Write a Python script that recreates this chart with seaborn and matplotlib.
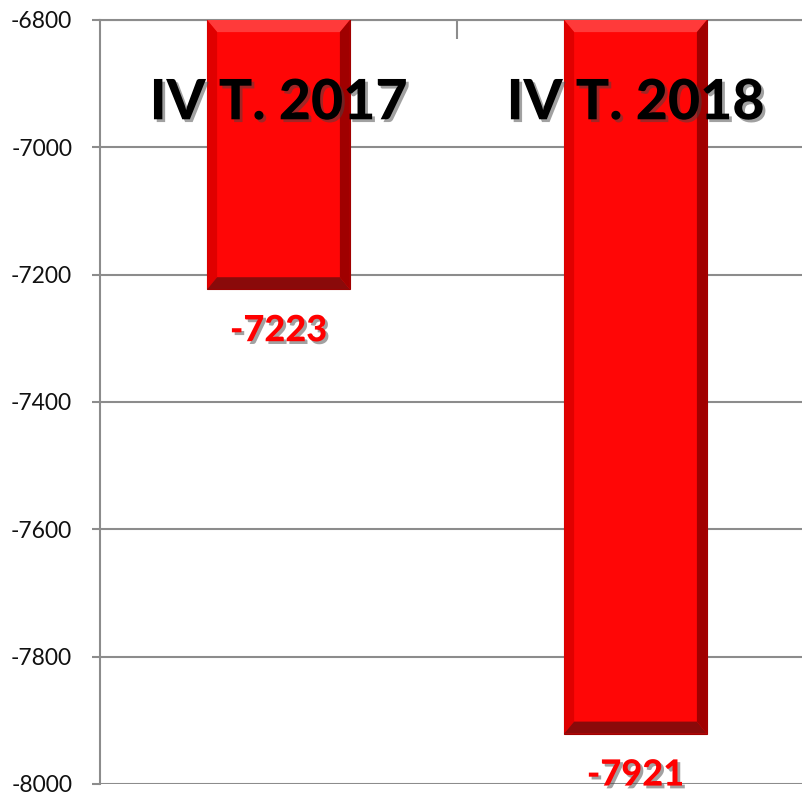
import matplotlib
matplotlib.use("Agg")
import matplotlib.pyplot as plt
import matplotlib.patheffects as pe
from matplotlib.patches import Polygon
import seaborn as sns

# data
categories = ["IV T. 2017", "IV T. 2018"]
values = [-7223, -7921]
y_ticks = [-8000, -7800, -7600, -7400, -7200, -7000, -6800]

sns.set_theme(style="white")
plt.rcParams['font.family'] = ['Lato', 'DejaVu Sans']

fig = plt.figure(figsize=(8.03, 7.94), dpi=100)
ax = fig.add_axes([100 / 803, 10 / 794, 714 / 803, 764 / 794])

sns.barplot(x=categories, y=values, color="#FF0606", width=0.4,
            saturation=1, ax=ax, zorder=3)

ax.set_ylim(-8000, -6800)
ax.set_yticks(y_ticks)
ax.set_yticklabels([str(t) for t in y_ticks], fontsize=16.5, color="#111111")
ax.yaxis.grid(True, color="#8c8c8c", linewidth=1.5, zorder=0)
ax.set_axisbelow(True)

for side in ["right", "bottom"]:
    ax.spines[side].set_visible(False)
for side in ["left", "top"]:
    ax.spines[side].set_color("#8c8c8c")
    ax.spines[side].set_linewidth(1.5)

ax.tick_params(axis="y", direction="out", length=6, width=1.5,
               color="#8c8c8c", left=True, pad=14)
ax.set_xticks([])
ax.set_xticks([0.5], minor=True)
ax.tick_params(axis="x", which="minor", top=True, bottom=False,
               direction="in", length=14, width=1.5, color="#8c8c8c")
ax.set_xlim(-0.5, 1.5)
ax.set_xlabel("")
ax.set_ylabel("")

# bevel effect on the bars
ytop = ax.get_ylim()[1]
dx = 0.028
dy = 19
for bar in ax.patches:
    x0 = bar.get_x()
    x1 = x0 + bar.get_width()
    yb = bar.get_y() + bar.get_height()
    yt = ytop
    bar.set_edgecolor("#A00000")
    bar.set_linewidth(0.8)
    shapes = [
        ([(x0, yt), (x1, yt), (x1 - dx, yt - dy), (x0 + dx, yt - dy)], "#FF3A3A"),
        ([(x1, yt), (x1, yb), (x1 - dx, yb + dy), (x1 - dx, yt - dy)], "#A00000"),
        ([(x0, yt), (x0, yb), (x0 + dx, yb + dy), (x0 + dx, yt - dy)], "#E00000"),
        ([(x0, yb), (x1, yb), (x1 - dx, yb + dy), (x0 + dx, yb + dy)], "#8A0A0A"),
    ]
    for pts, col in shapes:
        ax.add_patch(Polygon(pts, closed=True, facecolor=col,
                             edgecolor="none", zorder=4))

shadow = [pe.withSimplePatchShadow(offset=(2, -2), shadow_rgbFace="#444444", alpha=0.5)]

for i, (cat, val) in enumerate(zip(categories, values)):
    ax.text(i, 0.891, cat, transform=ax.get_xaxis_transform(),
            ha="center", va="center", fontsize=40, fontweight="black",
            color="black", zorder=6, path_effects=shadow)
    ax.text(i, val - 65, str(val), ha="center", va="center",
            fontsize=26, fontweight="black", color="#FF0000",
            zorder=6, path_effects=shadow)

fig.savefig("out.png", dpi=100)
